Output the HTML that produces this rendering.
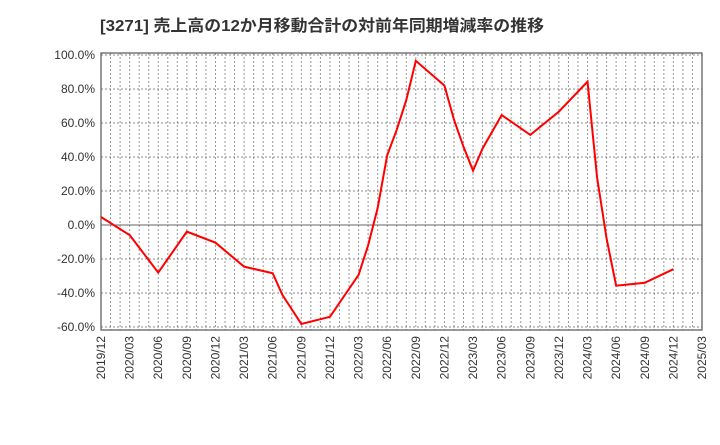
<!DOCTYPE html>
<html><head><meta charset="utf-8"><style>
body{margin:0;background:#fff;}
svg text{font-family:"Liberation Sans","Noto Sans CJK JP",sans-serif;}
</style></head><body>
<svg id="chart" width="720" height="440" xmlns="http://www.w3.org/2000/svg">
<text x="100" y="31" font-size="16" font-weight="bold" fill="#333" textLength="444" lengthAdjust="spacingAndGlyphs">[3271]  売上高の12か月移動合計の対前年同期増減率の推移</text>
<g id="grid"></g><g id="axes"></g><g id="series"></g>
</svg>
<script>
const months = ["2019/12","2020/03","2020/06","2020/09","2020/12","2021/03","2021/06","2021/07","2021/09","2021/12","2022/03","2022/04","2022/05","2022/06","2022/07","2022/08","2022/09","2022/12","2023/01","2023/02","2023/03","2023/04","2023/06","2023/09","2023/12","2024/03","2024/04","2024/05","2024/06","2024/09","2024/12"];
const values = [4.7,-5.9,-28,-3.9,-10.4,-24.5,-28.4,-41,-58.2,-54,-29.4,-12,10,41,56,73.5,96.6,82,62,46,32,45,64.7,53,66.7,84.3,28,-8,-35.7,-34,-26];
const xTicks = ["2019/12","2020/03","2020/06","2020/09","2020/12","2021/03","2021/06","2021/09","2021/12","2022/03","2022/06","2022/09","2022/12","2023/03","2023/06","2023/09","2023/12","2024/03","2024/06","2024/09","2024/12","2025/03"];
const yTicks = [100,80,60,40,20,0,-20,-40,-60];
const NS="http://www.w3.org/2000/svg";
const L=101,R=702,T=53,B=330;
function mi(s){const[p,q]=s.split("/").map(Number);return (p-2019)*12+q-12;}
const x=m=>L+mi(m)*(R-L)/63;
const y=v=>225-v*1.7;
function el(t,a,parent){const e=document.createElementNS(NS,t);for(const k in a)e.setAttribute(k,a[k]);parent.appendChild(e);return e;}
const grid=document.getElementById("grid"),axes=document.getElementById("axes"),series=document.getElementById("series");
for(let i=0;i<=63;i++){const xx=L+i*(R-L)/63;
 const g=el("line",{x1:xx,x2:xx,y1:T,y2:B,stroke:"#999","stroke-width":1,"stroke-dasharray":"2,2"},grid);
 
 }
yTicks.forEach(v=>{
 const g=el("line",{x1:L,x2:R,y1:y(v),y2:y(v),stroke:v===0?"#666":"#888","stroke-width":1,"stroke-dasharray":v===0?"":"2,2"},grid);
 
 
 const t=el("text",{x:L-6,y:y(v)+4,"text-anchor":"end","font-size":12,fill:"#333"},axes);
 t.textContent=v.toFixed(1)+"%";
 
 });
xTicks.forEach(m=>{
 const xx=x(m);
 const t=el("text",{transform:`translate(${xx+4},${B+6}) rotate(-90)`,"text-anchor":"end","font-size":12,fill:"#333"},axes);
 t.textContent=m;
 
 });
const f=el("rect",{x:L,y:T,width:R-L,height:B-T,fill:"none",stroke:"#555","stroke-width":1.2},axes);


const pts=months.map((m,i)=>x(m)+","+y(values[i])).join(" ");
const pl=el("polyline",{points:pts,fill:"none",stroke:"#ff0000","stroke-width":2,"stroke-linejoin":"miter"},series);


</script>
</body></html>
